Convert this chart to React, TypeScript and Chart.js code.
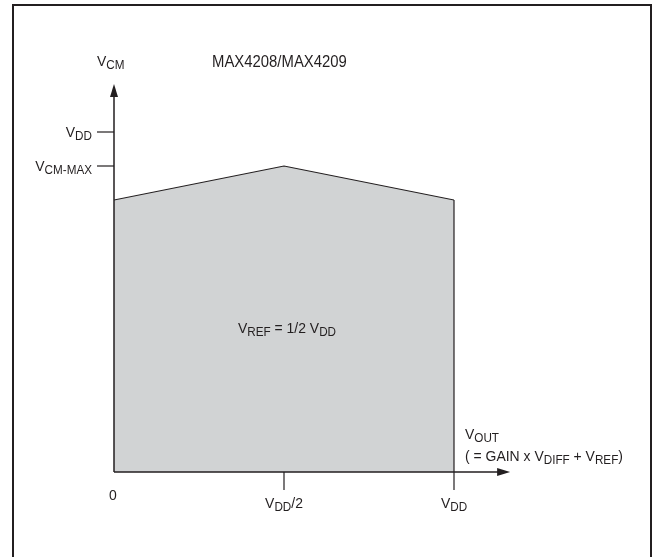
import React, { useEffect, useRef } from 'react';
import { Chart, registerables } from 'chart.js';

Chart.register(...registerables);

// Region boundary (fractions of VDD)
const xValues = [0, 0.5, 1];
const yValues = [0.8, 0.9, 0.8];

// Axis extents (arrow tips), fractions of VDD
const xAxisEnd = 1.165;
const yAxisEnd = 1.141;

// Y ticks
const yTickValues = [1, 0.9];
const yTickLabels: [string, boolean][][] = [
  [['V', false], ['DD', true]],
  [['V', false], ['CM-MAX', true]],
];

// X ticks
const xTickValues = [0.5, 1];
const xTickLabels: [string, boolean][][] = [
  [['V', false], ['DD', true], ['/2', false]],
  [['V', false], ['DD', true]],
];
const xZeroLabel: [string, boolean][] = [['0', false]];

const yAxisTitle: [string, boolean][] = [['V', false], ['CM', true]];
const xAxisTitle1: [string, boolean][] = [['V', false], ['OUT', true]];
const xAxisTitle2: [string, boolean][] = [
  ['( = GAIN x V', false], ['DIFF', true], [' + V', false], ['REF', true], [')', false],
];
const regionLabel: [string, boolean][] = [
  ['V', false], ['REF', true], [' = 1/2 V', false], ['DD', true],
];
const titleText = 'MAX4208/MAX4209';

const FONT = '"Liberation Sans", Arial, sans-serif';
const INK = '#231f20';
const FILL = '#d1d3d4';
const MAIN = 15.5;
const SUB = 13;
const CONDENSE = 0.9;

function drawRich(ctx: CanvasRenderingContext2D, segs: [string, boolean][], x: number, y: number, align: 'left' | 'right' | 'center') {
  const widths: number[] = [];
  let total = 0;
  for (const [t, s] of segs) {
    ctx.font = `${s ? SUB : MAIN}px ${FONT}`;
    const w = ctx.measureText(t).width * CONDENSE;
    widths.push(w);
    total += w;
  }
  let cx = align === 'right' ? x - total : align === 'center' ? x - total / 2 : x;
  ctx.fillStyle = INK;
  ctx.textBaseline = 'alphabetic';
  ctx.textAlign = 'left';
  segs.forEach(([t, s], i) => {
    ctx.font = `${s ? SUB : MAIN}px ${FONT}`;
    ctx.save();
    ctx.translate(cx, s ? y + 3 : y);
    ctx.scale(CONDENSE, 1);
    ctx.fillText(t, 0, 0);
    ctx.restore();
    cx += widths[i];
  });
}

const overlay = {
  id: 'overlay',
  afterDatasetsDraw(chart: any) {
    const ctx: CanvasRenderingContext2D = chart.ctx;
    const xs = chart.scales.x;
    const ys = chart.scales.y;
    const px = (v: number) => xs.getPixelForValue(v);
    const py = (v: number) => ys.getPixelForValue(v);
    const x0 = px(0);
    const y0 = py(0);
    ctx.save();
    ctx.strokeStyle = INK;
    ctx.fillStyle = INK;

    // right edge of region
    ctx.lineWidth = 1.2;
    ctx.beginPath();
    ctx.moveTo(px(xValues[xValues.length - 1]), py(yValues[yValues.length - 1]));
    ctx.lineTo(px(xValues[xValues.length - 1]), y0);
    ctx.stroke();

    // axes
    ctx.lineWidth = 1.5;
    const xTip = px(xAxisEnd);
    const yTip = py(yAxisEnd);
    ctx.beginPath();
    ctx.moveTo(x0, y0);
    ctx.lineTo(xTip - 10, y0);
    ctx.moveTo(x0, y0);
    ctx.lineTo(x0, yTip + 10);
    ctx.stroke();
    // arrowheads
    ctx.beginPath();
    ctx.moveTo(xTip, y0);
    ctx.lineTo(xTip - 13, y0 - 4);
    ctx.lineTo(xTip - 13, y0 + 4);
    ctx.closePath();
    ctx.fill();
    ctx.beginPath();
    ctx.moveTo(x0, yTip);
    ctx.lineTo(x0 - 4, yTip + 13);
    ctx.lineTo(x0 + 4, yTip + 13);
    ctx.closePath();
    ctx.fill();

    // y ticks
    ctx.lineWidth = 1.2;
    yTickValues.forEach((v, i) => {
      const y = py(v);
      ctx.beginPath();
      ctx.moveTo(x0 - 17, y);
      ctx.lineTo(x0, y);
      ctx.stroke();
      drawRich(ctx, yTickLabels[i], x0 - 22, y + 5, 'right');
    });
    // x ticks
    xTickValues.forEach((v, i) => {
      const x = px(v);
      ctx.beginPath();
      ctx.moveTo(x, y0);
      ctx.lineTo(x, y0 + 18);
      ctx.stroke();
      drawRich(ctx, xTickLabels[i], x, y0 + 36, 'center');
    });
    drawRich(ctx, xZeroLabel, x0 - 1, y0 + 28, 'center');

    // axis titles
    drawRich(ctx, yAxisTitle, x0 - 17, yTip - 18, 'left');
    drawRich(ctx, xAxisTitle1, px(1) + 11, y0 - 33, 'left');
    drawRich(ctx, xAxisTitle2, px(1) + 11, y0 - 11, 'left');
    // region label
    drawRich(ctx, regionLabel, px(0.5) + 3, py(0.41), 'center');
    // title
    ctx.font = `16px ${FONT}`;
    ctx.save();
    ctx.translate(212, 67);
    ctx.scale(0.93, 1);
    ctx.fillText(titleText, 0, 0);
    ctx.restore();

    // frame
    ctx.lineWidth = 2;
    ctx.beginPath();
    ctx.moveTo(13, chart.height);
    ctx.lineTo(13, 5);
    ctx.lineTo(651, 5);
    ctx.lineTo(651, chart.height);
    ctx.stroke();
    ctx.restore();
  },
};

export default function App() {
  const ref = useRef<HTMLCanvasElement>(null);
  useEffect(() => {
    if (!ref.current) return;
    const chart = new Chart(ref.current, {
      type: 'line',
      data: {
        datasets: [
          {
            data: xValues.map((x, i) => ({ x, y: yValues[i] })),
            borderColor: INK,
            borderWidth: 1.2,
            backgroundColor: FILL,
            fill: 'origin',
            pointRadius: 0,
            tension: 0,
          },
        ],
      },
      options: {
        responsive: false,
        maintainAspectRatio: false,
        animation: false,
        layout: { padding: { left: 114, right: 200, top: 132, bottom: 85 } },
        scales: {
          x: { type: 'linear', min: 0, max: 1, display: false },
          y: { type: 'linear', min: 0, max: 1, display: false },
        },
        plugins: { legend: { display: false }, tooltip: { enabled: false } },
      },
      plugins: [overlay],
    });
    return () => chart.destroy();
  }, []);
  return (
    <div style={{ position: 'fixed', left: 0, top: 0, width: 654, height: 557, background: '#fff' }}>
      <canvas ref={ref} width={654} height={557} />
    </div>
  );
}
